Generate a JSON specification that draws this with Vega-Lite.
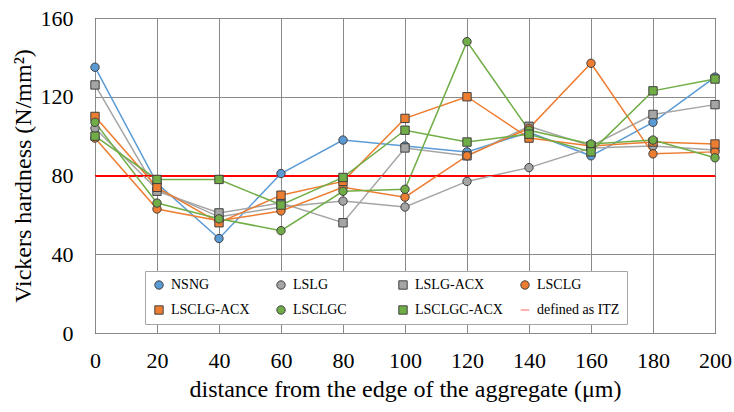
{
  "$schema": "https://vega.github.io/schema/vega-lite/v6.json",
  "width": 620,
  "height": 315,
  "autosize": {"type": "none"},
  "padding": {"left": 95, "top": 18, "right": 19, "bottom": 79},
  "background": "white",
  "config": {
    "view": {"stroke": "#000000", "strokeWidth": 1},
    "font": "Liberation Serif",
    "style": {
      "guide-label": {"font": "Liberation Serif"},
      "guide-title": {"font": "Liberation Serif"}
    },
    "axis": {
      "labelFont": "Liberation Serif", "labelFontSize": 22, "labelColor": "#000000",
      "titleFont": "Liberation Serif", "titleFontSize": 24, "titleFontWeight": "normal", "titleColor": "#000000",
      "domain": false, "ticks": false, "gridColor": "#8a8a8a", "gridWidth": 1, "gridOpacity": 1
    },
    "axisX": {"labelPadding": 17, "titlePadding": 6, "labelFlush": false},
    "axisY": {"labelPadding": 22, "titlePadding": 5},
    "legend": {
      "labelFont": "Liberation Serif", "labelFontSize": 14, "labelColor": "#000000",
      "symbolOpacity": 1, "symbolStrokeWidth": 1
    }
  },
  "datasets": {
    "hv": [
      {"distance": 0, "hardness": 135, "series": "NSNG"},
      {"distance": 20, "hardness": 76, "series": "NSNG"},
      {"distance": 40, "hardness": 48, "series": "NSNG"},
      {"distance": 60, "hardness": 81, "series": "NSNG"},
      {"distance": 80, "hardness": 98, "series": "NSNG"},
      {"distance": 100, "hardness": 95, "series": "NSNG"},
      {"distance": 120, "hardness": 92, "series": "NSNG"},
      {"distance": 140, "hardness": 102, "series": "NSNG"},
      {"distance": 160, "hardness": 90, "series": "NSNG"},
      {"distance": 180, "hardness": 107, "series": "NSNG"},
      {"distance": 200, "hardness": 130, "series": "NSNG"},
      {"distance": 0, "hardness": 104, "series": "LSLG"},
      {"distance": 20, "hardness": 73, "series": "LSLG"},
      {"distance": 40, "hardness": 59, "series": "LSLG"},
      {"distance": 60, "hardness": 64, "series": "LSLG"},
      {"distance": 80, "hardness": 67, "series": "LSLG"},
      {"distance": 100, "hardness": 64, "series": "LSLG"},
      {"distance": 120, "hardness": 77, "series": "LSLG"},
      {"distance": 140, "hardness": 84, "series": "LSLG"},
      {"distance": 160, "hardness": 94, "series": "LSLG"},
      {"distance": 180, "hardness": 95, "series": "LSLG"},
      {"distance": 200, "hardness": 93, "series": "LSLG"},
      {"distance": 0, "hardness": 126, "series": "LSLG-ACX"},
      {"distance": 20, "hardness": 72, "series": "LSLG-ACX"},
      {"distance": 40, "hardness": 61, "series": "LSLG-ACX"},
      {"distance": 60, "hardness": 66, "series": "LSLG-ACX"},
      {"distance": 80, "hardness": 56, "series": "LSLG-ACX"},
      {"distance": 100, "hardness": 94, "series": "LSLG-ACX"},
      {"distance": 120, "hardness": 90, "series": "LSLG-ACX"},
      {"distance": 140, "hardness": 105, "series": "LSLG-ACX"},
      {"distance": 160, "hardness": 95, "series": "LSLG-ACX"},
      {"distance": 180, "hardness": 111, "series": "LSLG-ACX"},
      {"distance": 200, "hardness": 116, "series": "LSLG-ACX"},
      {"distance": 0, "hardness": 99, "series": "LSCLG"},
      {"distance": 20, "hardness": 63, "series": "LSCLG"},
      {"distance": 40, "hardness": 57, "series": "LSCLG"},
      {"distance": 60, "hardness": 62, "series": "LSCLG"},
      {"distance": 80, "hardness": 74, "series": "LSCLG"},
      {"distance": 100, "hardness": 69, "series": "LSCLG"},
      {"distance": 120, "hardness": 90, "series": "LSCLG"},
      {"distance": 140, "hardness": 104, "series": "LSCLG"},
      {"distance": 160, "hardness": 137, "series": "LSCLG"},
      {"distance": 180, "hardness": 91, "series": "LSCLG"},
      {"distance": 200, "hardness": 92, "series": "LSCLG"},
      {"distance": 0, "hardness": 110, "series": "LSCLG-ACX"},
      {"distance": 20, "hardness": 74, "series": "LSCLG-ACX"},
      {"distance": 40, "hardness": 56, "series": "LSCLG-ACX"},
      {"distance": 60, "hardness": 70, "series": "LSCLG-ACX"},
      {"distance": 80, "hardness": 77, "series": "LSCLG-ACX"},
      {"distance": 100, "hardness": 109, "series": "LSCLG-ACX"},
      {"distance": 120, "hardness": 120, "series": "LSCLG-ACX"},
      {"distance": 140, "hardness": 99, "series": "LSCLG-ACX"},
      {"distance": 160, "hardness": 95, "series": "LSCLG-ACX"},
      {"distance": 180, "hardness": 97, "series": "LSCLG-ACX"},
      {"distance": 200, "hardness": 96, "series": "LSCLG-ACX"},
      {"distance": 0, "hardness": 107, "series": "LSCLGC"},
      {"distance": 20, "hardness": 66, "series": "LSCLGC"},
      {"distance": 40, "hardness": 58, "series": "LSCLGC"},
      {"distance": 60, "hardness": 52, "series": "LSCLGC"},
      {"distance": 80, "hardness": 72, "series": "LSCLGC"},
      {"distance": 100, "hardness": 73, "series": "LSCLGC"},
      {"distance": 120, "hardness": 148, "series": "LSCLGC"},
      {"distance": 140, "hardness": 103, "series": "LSCLGC"},
      {"distance": 160, "hardness": 96, "series": "LSCLGC"},
      {"distance": 180, "hardness": 98, "series": "LSCLGC"},
      {"distance": 200, "hardness": 89, "series": "LSCLGC"},
      {"distance": 0, "hardness": 100, "series": "LSCLGC-ACX"},
      {"distance": 20, "hardness": 78, "series": "LSCLGC-ACX"},
      {"distance": 40, "hardness": 78, "series": "LSCLGC-ACX"},
      {"distance": 60, "hardness": 65, "series": "LSCLGC-ACX"},
      {"distance": 80, "hardness": 79, "series": "LSCLGC-ACX"},
      {"distance": 100, "hardness": 103, "series": "LSCLGC-ACX"},
      {"distance": 120, "hardness": 97, "series": "LSCLGC-ACX"},
      {"distance": 140, "hardness": 101, "series": "LSCLGC-ACX"},
      {"distance": 160, "hardness": 92, "series": "LSCLGC-ACX"},
      {"distance": 180, "hardness": 123, "series": "LSCLGC-ACX"},
      {"distance": 200, "hardness": 129, "series": "LSCLGC-ACX"}
    ],
    "itz": [{"itz": 80}]
  },
  "layer": [
    {
      "data": {"name": "hv"},
      "mark": {"type": "line", "strokeWidth": 1.5},
      "encoding": {
        "x": {
          "field": "distance", "type": "quantitative",
          "scale": {"domain": [0, 200], "nice": false},
          "axis": {"values": [0, 20, 40, 60, 80, 100, 120, 140, 160, 180, 200], "title": "distance from the edge of the aggregate (μm)", "labelFont": "Liberation Serif", "titleFont": "Liberation Serif"}
        },
        "y": {
          "field": "hardness", "type": "quantitative",
          "scale": {"domain": [0, 160], "nice": false},
          "axis": {
            "values": [0, 40, 80, 120, 160], "title": "Vickers hardness (N/mm²)", "labelFont": "Liberation Serif", "titleFont": "Liberation Serif",
            "gridColor": {"condition": {"test": "datum.value === 80", "value": "#FF0000"}, "value": "#8a8a8a"}
          }
        },
        "color": {
          "field": "series", "type": "nominal",
          "scale": {
            "domain": ["NSNG", "LSLG", "LSLG-ACX", "LSCLG", "LSCLG-ACX", "LSCLGC", "LSCLGC-ACX"],
            "range": ["#5B9BD5", "#A5A5A5", "#A5A5A5", "#ED7D31", "#ED7D31", "#70AD47", "#70AD47"]
          },
          "legend": null
        }
      }
    },
    {
      "data": {"name": "itz"},
      "mark": {"type": "rule", "stroke": "#FF0000", "color": "#FF0000", "strokeWidth": 1.2, "opacity": 1},
      "encoding": {"y": {"field": "itz", "type": "quantitative"}}
    },
    {
      "data": {"name": "hv"},
      "mark": {"type": "point", "filled": true, "opacity": 1, "strokeWidth": 1},
      "encoding": {
        "x": {"field": "distance", "type": "quantitative"},
        "y": {"field": "hardness", "type": "quantitative"},
        "fill": {
          "field": "series", "type": "nominal",
          "scale": {
            "domain": ["NSNG", "LSLG", "LSLG-ACX", "LSCLG", "LSCLG-ACX", "LSCLGC", "LSCLGC-ACX", "defined as ITZ"],
            "range": ["#5B9BD5", "#A5A5A5", "#A5A5A5", "#ED7D31", "#ED7D31", "#70AD47", "#70AD47", "#FF6060"]
          },
          "legend": {
            "title": null, "orient": "none", "legendX": 50, "legendY": 253,
            "direction": "horizontal", "columns": 4, "gridAlign": "all",
            "columnPadding": 15, "rowPadding": 11, "padding": 7, "labelOffset": 5,
            "fillColor": "#FFFFFF", "strokeColor": "#A6A6A6"
          }
        },
        "stroke": {
          "field": "series", "type": "nominal",
          "scale": {
            "domain": ["NSNG", "LSLG", "LSLG-ACX", "LSCLG", "LSCLG-ACX", "LSCLGC", "LSCLGC-ACX", "defined as ITZ"],
            "range": ["#404040", "#404040", "#404040", "#404040", "#404040", "#404040", "#404040", "#FF6060"]
          }
        },
        "shape": {
          "field": "series", "type": "nominal",
          "scale": {
            "domain": ["NSNG", "LSLG", "LSLG-ACX", "LSCLG", "LSCLG-ACX", "LSCLGC", "LSCLGC-ACX", "defined as ITZ"],
            "range": ["circle", "circle", "square", "circle", "square", "circle", "square", "stroke"]
          }
        },
        "size": {
          "field": "series", "type": "nominal",
          "scale": {
            "domain": ["NSNG", "LSLG", "LSLG-ACX", "LSCLG", "LSCLG-ACX", "LSCLGC", "LSCLGC-ACX", "defined as ITZ"],
            "range": [70, 70, 85, 70, 85, 70, 85, 256]
          }
        }
      }
    }
  ]
}
